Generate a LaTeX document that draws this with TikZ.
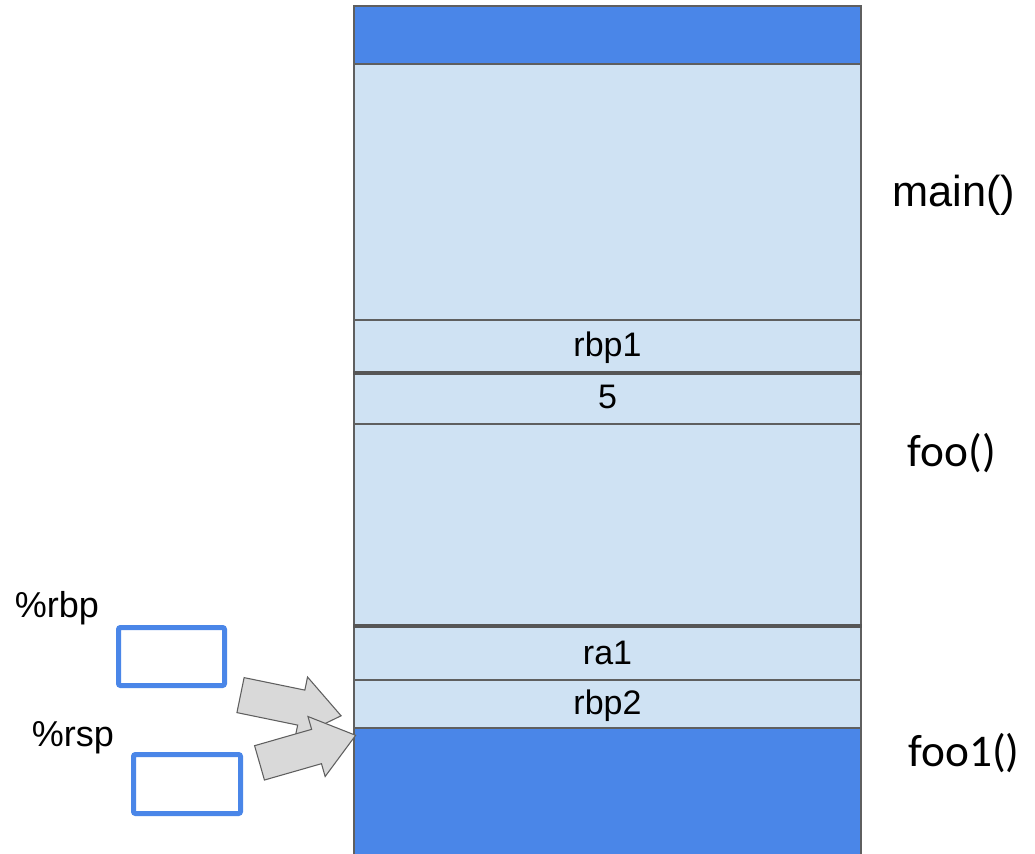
\documentclass[tikz,border=0pt]{standalone}
\usepackage{fontspec}
\setmainfont{Liberation Sans}
\newfontfamily\calibrifont{Carlito}
\usetikzlibrary{arrows.meta,positioning,calc,shapes.arrows}
\definecolor{framedark}{HTML}{4A86E8}
\definecolor{framelight}{HTML}{CFE2F3}
\definecolor{linegray}{HTML}{5F5F5F}
\definecolor{arrowgray}{HTML}{D9D9D9}
\tikzset{
 cell/.style={
 rectangle,
 draw=linegray,
 fill=framelight,
 line width=1.1pt,
 inner sep=0pt,
 text height=19pt,
 text depth=3pt,
 minimum width=380.25pt,
 font=\fontsize{25.5}{30}\selectfont
 },
 darkcell/.style={cell, fill=framedark},
 frameline/.style={draw=linegray!90!black, line width=2.8pt},
 regbox/.style={
 rectangle,
 rounded corners=1.5pt,
 draw=framedark,
 fill=white,
 line width=3.75pt,
 minimum width=79.5pt,
 minimum height=43.5pt
 },
 reglabel/.style={anchor=base, font=\fontsize{27}{32}\selectfont},
 framelabel/.style={anchor=base, font=\fontsize{32.5}{38}\selectfont},
 blockarrow/.style={
 single arrow,
 draw=linegray,
 fill=arrowgray,
 line width=0.8pt,
 inner sep=0pt,
 inner ysep=13pt,
 minimum width=39pt,
 single arrow head extend=10pt,
 single arrow tip angle=75,
 minimum height=76pt,
 sloped,
 pos=0,
 anchor=tail
 }
}

\begin{document}
\begin{tikzpicture}[x=0.75pt, y=-0.75pt]
 \useasboundingbox (0,0) rectangle (1035,853);
 % the stack, top to bottom
 \node[darkcell, minimum height=43.5pt] (topband) at (607.5,35) {};
 \node[cell, minimum height=192pt] (mainbody) at (607.5,192) {};
 \node[cell, minimum height=39pt] (rbpone) at (607.5,346) {rbp1};
 \node[cell, minimum height=39pt] (five) at (607.5,398) {5};
 \node[cell, minimum height=152.25pt] (foobody) at (607.5,525.5) {};
 \node[cell, minimum height=39.75pt] (raone) at (607.5,653.5) {ra1};
 \node[cell, minimum height=36pt] (rbptwo) at (607.5,704) {rbp2};
 \node[darkcell, minimum height=99pt] (bottomband) at (607.5,794) {};
 % frame boundaries
 \draw[frameline] (rbpone.south west) -- (rbpone.south east);
 \draw[frameline] (raone.north west) -- (raone.north east);

 \node[framelabel] (mainlbl) at (954,206) {main()};
 \node[framelabel, font=\calibrifont\fontsize{34}{40}\selectfont] (foolbl) at (952,466) {foo()};
 \node[framelabel, font=\calibrifont\fontsize{34}{40}\selectfont] (fooonelbl) at (964,766) {foo1()};

 % registers
 \node[reglabel] (rbplbl) at (57,617) {\%rbp};
 \node[regbox] (rbpreg) at (171.5,656.5) {};
 \node[reglabel] (rsplbl) at (73,746) {\%rsp};
 \node[regbox, minimum width=80.25pt, minimum height=44.25pt] (rspreg) at (187,784) {};

 \coordinate (rbptail) at ($(rbpreg.south east)+(13,7)$);
 \coordinate (rbptip) at ($(rbptwo.west)+(-16,11)$);
 \coordinate (rsptail) at ($(rspreg.north east)+(16,11)$);
 \coordinate (rsptip) at ($(bottomband.north west)+(-1,9)$);
 \path (rbptail) -- node[blockarrow, minimum height=77pt] {} (rbptip);
 \path (rsptail) -- node[blockarrow, minimum height=75pt] {} (rsptip);
\end{tikzpicture}
\end{document}
